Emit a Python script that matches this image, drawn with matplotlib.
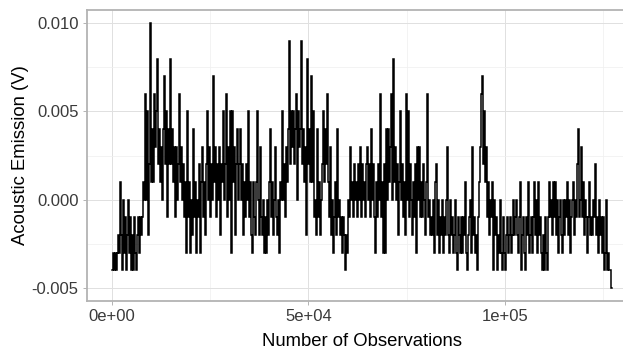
import numpy as np
import matplotlib
matplotlib.use("Agg")
import matplotlib.pyplot as plt
from matplotlib.ticker import FixedLocator

# acoustic emission signal in mV (one value per ~255 observations)
ae_mv = [
    -4, -3, -4, -3, -4, -3, -2, -3, 1, -2,
    -4, 0, -3, -1, -4, -2, 0, -3, -1, -4,
    -2, -4, -1, -3, -4, -2, -1, -3, -1, -2,
    -1, 1, 0, 6, 0, 5, -2, 2, 10, 1,
    4, 1, 6, 3, 5, 8, 2, 4, 1, 3,
    0, 4, 7, 2, 5, -1, 4, 2, 8, 2,
    4, 1, 3, -1, 3, 0, 2, 6, 1, 3,
    0, 2, -1, 1, -3, 5, -1, 1, -3, 0,
    -2, 4, -1, 1, -3, 0, -1, 2, -3, 1,
    3, -1, 1, -2, 2, 5, 0, 3, -1, 2,
    0, 7, 1, 3, -1, 2, 0, 3, -2, 2,
    1, 5, 0, 2, 6, -1, 3, 0, 5, -3,
    5, 1, 3, -2, 2, 4, 0, 2, 4, 0,
    2, -2, 1, -1, 2, 0, 5, -1, 1, -2,
    -3, 1, -1, -2, 1, 5, 0, -2, 3, -1,
    -2, 0, -3, -1, -3, 0, -2, 1, 4, -1,
    1, -2, 0, 3, -1, -2, 0, -3, 1, 0,
    5, 0, 2, -1, 3, 1, 4, 9, 2, 5,
    3, 5, 2, 4, 6, 0, 5, 3, 4, 9,
    2, 4, 1, 3, -2, 8, 2, 4, 1, 7,
    1, 5, -1, 0, -2, 4, -1, 1, -2, 0,
    2, 5, 1, 4, 2, 6, 1, -1, 3, -2,
    0, -3, -1, 1, -2, 4, -1, 0, -2, -1,
    -3, -1, -2, -4, -2, -3, 0, -1, 3, 0,
    1, -1, 2, 0, 1, -1, 2, 0, 3, -1,
    2, 0, 1, -1, 2, 3, 0, 2, -1, 4,
    0, 2, -1, -3, 1, -1, 2, 0, 6, -1,
    1, -3, 2, -3, 4, 0, 4, 1, 3, 6,
    0, 8, 1, 3, 0, 2, -2, 1, 5, 0,
    2, -1, 1, -2, 6, 0, 5, -1, 2, 0,
    -2, 1, -1, 2, -3, 3, 0, 3, -1, 1,
    -1, 2, 0, -2, 1, 6, -1, 0, -2, -1,
    -2, 0, -3, 1, 2, -2, 0, -3, -1, -2,
    0, -3, -1, -2, 0, 3, -2, -3, 0, -2,
    -1, -3, -2, 0, -3, -4, -1, -2, -3, -1,
    -3, -1, -2, 1, -3, -4, -2, -1, 0, -3,
    3, -2, -1, -3, -2, -4, -1, 1, 3, 6,
    7, 2, 5, 1, 3, -1, 1, -2, 0, -1,
    1, -4, 0, -2, -1, -4, -2, -3, 0, -3,
    -4, -1, -3, -4, -2, -1, -3, -2, -1, -3,
    -2, 0, -2, -1, 0, -2, -3, -1, 1, -4,
    -2, -1, -3, -4, -1, -2, 1, -3, -2, -1,
    -3, -1, 1, -2, 0, -3, 1, -2, -1, -3,
    -4, -2, -4, -1, -3, -4, -1, 1, -1, 0,
    -2, 1, -1, 1, -2, 0, -3, -1, 0, -2,
    -3, 0, -2, 0, -1, 1, -2, 0, -3, -1,
    0, 1, -2, 0, -1, 2, 4, -1, 0, 3,
    -1, 1, -2, 0, -1, -3, -1, 1, -2, -1,
    -2, 0, -1, 2, -2, -1, -3, 0, -2, -1,
    -3, -1, -4, -3, 0, -4, -3, -4, -4, -5,
]
n_obs = 127250

x_ticks = [0, 50000, 100000]
x_labels = ["0e+00", "5e+04", "1e+05"]
x_minor = [25000, 75000, 125000]
y_ticks = [-0.005, 0.0, 0.005, 0.010]
y_labels = ["-0.005", "0.000", "0.005", "0.010"]
y_minor = [-0.0025, 0.0025, 0.0075]

ae = np.array(ae_mv) / 1000.0
obs = np.linspace(0, n_obs, len(ae))

plt.rcParams['font.family'] = ['Liberation Sans', 'DejaVu Sans']

fig = plt.figure(figsize=(6.23, 3.52), dpi=100)
# panel runs past the right edge, as in the cropped reference
ax = fig.add_axes([87 / 623, 51 / 352, 550 / 623, 291 / 352])

ax.plot(obs, ae, color='black', lw=1.1, drawstyle='steps-mid',
        solid_joinstyle='miter', zorder=3)

# ggplot-style limits with 5% expansion
xr = obs.max() - obs.min()
yr = ae.max() - ae.min()
ax.set_xlim(obs.min() - 0.05 * xr, obs.max() + 0.05 * xr)
ax.set_ylim(ae.min() - 0.05 * yr, ae.max() + 0.05 * yr)

ax.xaxis.set_major_locator(FixedLocator(x_ticks))
ax.xaxis.set_minor_locator(FixedLocator(x_minor))
ax.yaxis.set_major_locator(FixedLocator(y_ticks))
ax.yaxis.set_minor_locator(FixedLocator(y_minor))
ax.set_xticklabels(x_labels)
ax.set_yticklabels(y_labels)

# theme_light look
ax.grid(which='major', color='#E0E0E0', lw=0.7, zorder=0)
ax.grid(which='minor', color='#EFEFEF', lw=0.5, zorder=0)
ax.set_axisbelow(True)
for s in ax.spines.values():
    s.set_color('#B3B3B3')
    s.set_linewidth(1.3)
ax.tick_params(which='major', length=3, width=0.7, color='#B3B3B3',
               labelsize=12, labelcolor='#3A3A3A', pad=3)
ax.tick_params(which='minor', length=0)

ax.set_xlabel('Number of Observations', fontsize=13.3, labelpad=6)
ax.set_ylabel('Acoustic Emission (V)', fontsize=13.3, labelpad=2)

fig.savefig('out.png', dpi=100)
